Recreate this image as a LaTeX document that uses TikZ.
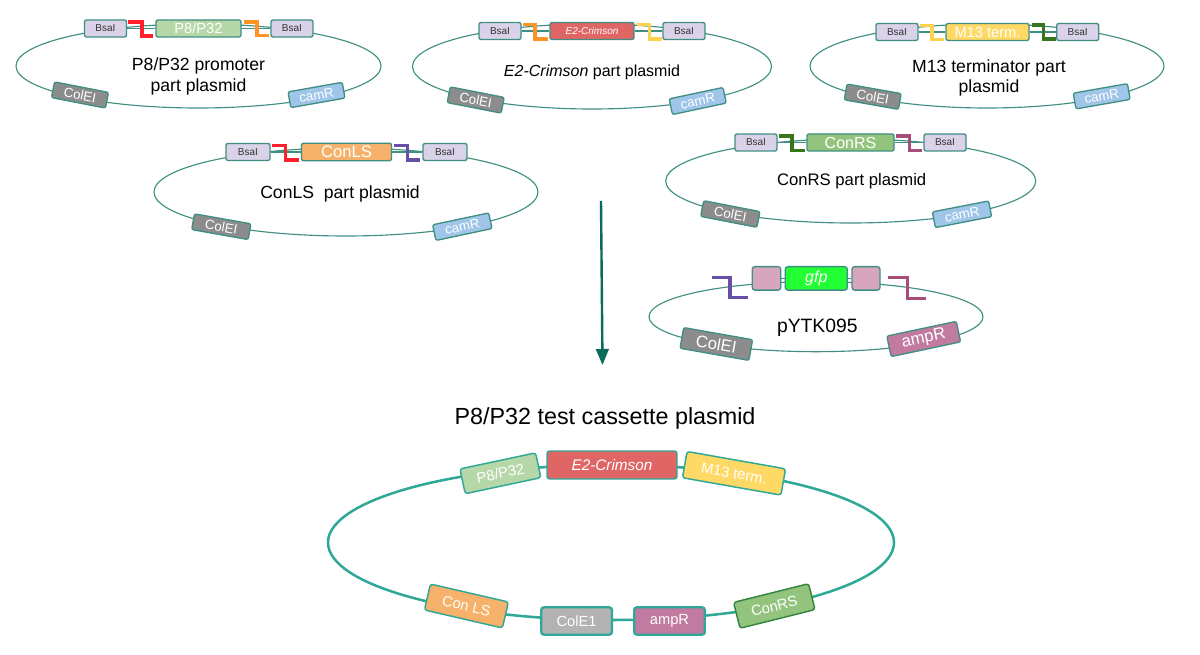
\documentclass[tikz,border=0pt]{standalone}
\usepackage{fontspec}
\setmainfont{Liberation Sans}
\usetikzlibrary{shapes.geometric,arrows.meta}
\definecolor{ringc}{HTML}{3F8F83}
\definecolor{ringf}{HTML}{2FA898}
\definecolor{bsalf}{HTML}{D9D2E9}
\definecolor{promf}{HTML}{B6D7A8}
\definecolor{crimf}{HTML}{E06666}
\definecolor{termf}{HTML}{FFD966}
\definecolor{lsf}{HTML}{F6B26B}
\definecolor{rsf}{HTML}{93C47D}
\definecolor{grayf}{HTML}{8C8C8C}
\definecolor{lgrayf}{HTML}{B3B3B3}
\definecolor{camf}{HTML}{9FC5E8}
\definecolor{ampf}{HTML}{C27BA0}
\definecolor{gfpf}{HTML}{22FF33}
\definecolor{pinkf}{HTML}{D5A6BD}
\definecolor{ovred}{HTML}{FF1F2D}
\definecolor{ovor}{HTML}{FF9326}
\definecolor{ovyel}{HTML}{FFD24D}
\definecolor{ovgrn}{HTML}{38761D}
\definecolor{ovpur}{HTML}{674EA7}
\definecolor{ovmag}{HTML}{A64D79}
\definecolor{arrowc}{HTML}{0B6B5A}
\newcommand\fsz[2]{\fontsize{#1}{#2}\selectfont}
\tikzset{
  ringnode/.style 2 args={draw=ringc,line width=0.85pt,shape=ellipse,inner sep=0pt,
     minimum width=#1*1.5pt,minimum height=#2*1.5pt},
  bigring/.style={ringnode={283}{77.5},draw=ringf,line width=1.9pt},
  partbox/.style 2 args={draw=ringc,line width=1pt,rounded corners=1.5pt,inner sep=0pt,
     minimum width=#1*0.75pt,minimum height=#2*0.75pt,text=white},
  bsal/.style={partbox={42}{17},fill=bsalf,text=black!80,font=\fsz{7.5}{9}},
  colei/.style={partbox={55}{16},fill=grayf,font=\fsz{10}{12}},
  camr/.style={partbox={55}{16},fill=camf,font=\fsz{10}{12}},
  bigbox/.style={draw=ringf,line width=1.1pt,rounded corners=2pt,inner sep=0pt,text=white,font=\fsz{11}{13}},
  plabel/.style={align=center,text=black,font=\fsz{13.2}{15.6}},
  backbone/.style={draw=ringc,line width=1.2pt},
  overhang/.style={line width=2.4pt,line join=miter},
}
% name, colour, x1, y1, x-mid, x2, y2
\newcommand\zig[7]{%
  \coordinate (#1a) at (#3,#4);
  \coordinate (#1m) at (#5,#7);
  \coordinate (#1b) at (#6,#7);
  \draw[overhang,draw=#2] (#1a) -| (#1m) -- (#1b);}
\begin{document}
\begin{tikzpicture}[x=0.75pt,y=-0.75pt]
\useasboundingbox (0,0) rectangle (1200,655);
\fill[white] (0,0) rectangle (1200,655);

% ---------- P8/P32 part plasmid
\node[ringnode={182.5}{42}] (r1) at (198.5,66) {};
\node[bsal] (r1l) at (105.5,28.5) {BsaI};
\node[bsal] (r1r) at (292,28.5) {BsaI};
\node[partbox={85}{17},fill=promf,font=\fsz{11}{13}] (r1p) at (198.5,28.5) {P8/P32};
\node[colei,rotate=-11] (r1c) at (80,95) {ColEI};
\node[camr,rotate=10] (r1a) at (316.5,95) {camR};
\draw[backbone] (r1l) -- (r1p);
\draw[backbone] (r1p) -- (r1r);
\zig{z1}{ovred}{128}{22}{142}{153}{36}
\zig{z2}{ovor}{244}{22}{257}{269}{35.5}
\node[plabel] (t1) at (198.5,76.5) {P8/P32 promoter\\[0.6pt]part plasmid};

% ---------- E2-Crimson part plasmid
\node[ringnode={179.5}{42.5}] (r2) at (592,66.5) {};
\node[bsal] (r2l) at (500,31) {BsaI};
\node[bsal] (r2r) at (684,31) {BsaI};
\node[partbox={84}{17},fill=crimf,font=\fsz{7.5}{9}\itshape] (r2p) at (592,31) {E2-Crimson};
\node[colei,rotate=-11] (r2c) at (475.7,100) {ColEI};
\node[camr,rotate=12] (r2a) at (697.7,101) {camR};
\draw[backbone] (r2l) -- (r2p);
\draw[backbone] (r2p) -- (r2r);
\zig{z3}{ovor}{523}{24.5}{535}{547.7}{39}
\zig{z4}{ovyel}{636.7}{24.5}{649.3}{662}{39}
\node[plabel,font=\fsz{12}{14}] (t2) at (592,72.5) {\textit{E2-Crimson} part plasmid};

% ---------- M13 part plasmid
\node[ringnode={177}{42}] (r3) at (987,66) {};
\node[bsal] (r3l) at (897,32) {BsaI};
\node[bsal] (r3r) at (1077.7,32) {BsaI};
\node[partbox={83}{17},fill=termf,font=\fsz{11}{13}] (r3p) at (987.5,32) {M13 term.};
\node[colei,rotate=-10] (r3c) at (872.7,96.7) {ColEI};
\node[camr,rotate=10] (r3a) at (1101.7,96.3) {camR};
\draw[backbone] (r3l) -- (r3p);
\draw[backbone] (r3p) -- (r3r);
\zig{z5}{ovyel}{920}{25.3}{932}{944}{39.3}
\zig{z6}{ovgrn}{1031.7}{25}{1043.3}{1055.7}{39}
\node[plabel] (t3) at (989,78) {M13 terminator part\\[0pt]plasmid};

% ---------- ConLS part plasmid
\node[ringnode={192}{44}] (r4) at (346,192) {};
\node[bsal,minimum width=33pt] (r4l) at (248,152) {BsaI};
\node[bsal,minimum width=33pt] (r4r) at (445,152) {BsaI};
\node[partbox={90}{17.5},fill=lsf,font=\fsz{12.5}{15}] (r4p) at (346.5,152) {ConLS};
\node[colei,minimum width=43pt,rotate=-10] (r4c) at (221.3,226.7) {ColEI};
\node[camr,minimum width=43pt,rotate=12] (r4a) at (462.3,226.7) {camR};
\draw[backbone] (r4l) -- (r4p);
\draw[backbone] (r4p) -- (r4r);
\zig{z7}{ovred}{272.3}{145.7}{285.7}{298.7}{160}
\zig{z8}{ovpur}{394}{145.7}{407.3}{420.3}{160}
\node[plabel] (t4) at (340,194) {ConLS\ \ part plasmid};

% ---------- ConRS part plasmid
\node[ringnode={185}{42}] (r5) at (850.7,181) {};
\node[bsal] (r5l) at (756,142.5) {BsaI};
\node[bsal] (r5r) at (945,142.5) {BsaI};
\node[partbox={87}{17},fill=rsf,font=\fsz{12}{14}] (r5p) at (850.5,142.5) {ConRS};
\node[colei,minimum width=43pt,rotate=-11] (r5c) at (730.3,214) {ColEI};
\node[camr,minimum width=43pt,rotate=11] (r5a) at (962,214.3) {camR};
\draw[backbone] (r5l) -- (r5p);
\draw[backbone] (r5p) -- (r5r);
\zig{z9}{ovgrn}{779.3}{136}{792}{805}{150.3}
\zig{z10}{ovmag}{896.3}{136}{909.3}{922}{150.3}
\node[plabel,font=\fsz{12.5}{15}] (t5) at (851.7,181) {ConRS part plasmid};

% ---------- pYTK095
\node[ringnode={167}{35}] (r6) at (816,316.7) {};
\node[partbox={28.5}{23.5},fill=pinkf,rounded corners=2pt] (r6l) at (766.5,278.4) {};
\node[partbox={28}{23.5},fill=pinkf,rounded corners=2pt] (r6r) at (866,278.4) {};
\node[partbox={62}{23.5},fill=gfpf,rounded corners=2pt,font=\fsz{12}{14}\itshape] (r6p) at (816.3,278.4) {gfp};
\node[partbox={70}{21},fill=grayf,font=\fsz{12.5}{15},rotate=-10] (r6c) at (716.3,344) {ColEI};
\node[partbox={71}{21},fill=ampf,font=\fsz{12.5}{15},rotate=12] (r6a) at (923.7,339) {ampR};
\draw[backbone] (r6l) -- (r6p);
\draw[backbone] (r6p) -- (r6r);
\zig{z11}{ovpur}{712}{277.3}{730}{747.7}{297.3}
\zig{z12}{ovmag}{888}{277.3}{907.3}{925.7}{298.7}
\node[plabel,font=\fsz{14.5}{17}] (t6) at (817.3,327.7) {pYTK095};

% ---------- arrow
\coordinate (arrA) at (601,201);
\coordinate (arrB) at (602.5,365);
\draw[draw=arrowc,line width=1.8pt,-{Triangle[length=12pt,width=9.5pt]}] (arrA) -- (arrB);

% ---------- cassette
\node[plabel,font=\fsz{17.5}{21}] (title) at (605,418.5) {P8/P32 test cassette plasmid};
\node[bigring] (rb) at (611,542.5) {};
\node[bigbox,fill=crimf,minimum width=97.5pt,minimum height=21pt,font=\fsz{11.5}{14}\itshape] (bE) at (612,465) {E2-Crimson};
\node[bigbox,fill=promf,minimum width=58pt,minimum height=19pt,rotate=12] (bP) at (500.4,473.3) {P8/P32};
\node[bigbox,fill=termf,minimum width=75pt,minimum height=20pt,rotate=-10] (bM) at (734,473.3) {M13 term.};
\node[bigbox,fill=lsf,minimum width=60pt,minimum height=20pt,rotate=-13] (bL) at (466.4,606) {Con LS};
\node[bigbox,fill=lgrayf,line width=1.7pt,minimum width=53pt,minimum height=20.5pt] (bC) at (576.6,621) {ColE1};
\node[bigbox,fill=ampf,line width=1.7pt,minimum width=53pt,minimum height=20.5pt] (bA) at (669.5,621) {ampR};
\node[bigbox,fill=rsf,draw=ovgrn!70!ringf,minimum width=58pt,minimum height=20pt,rotate=14] (bR) at (774.3,606) {ConRS};
\end{tikzpicture}
\end{document}
